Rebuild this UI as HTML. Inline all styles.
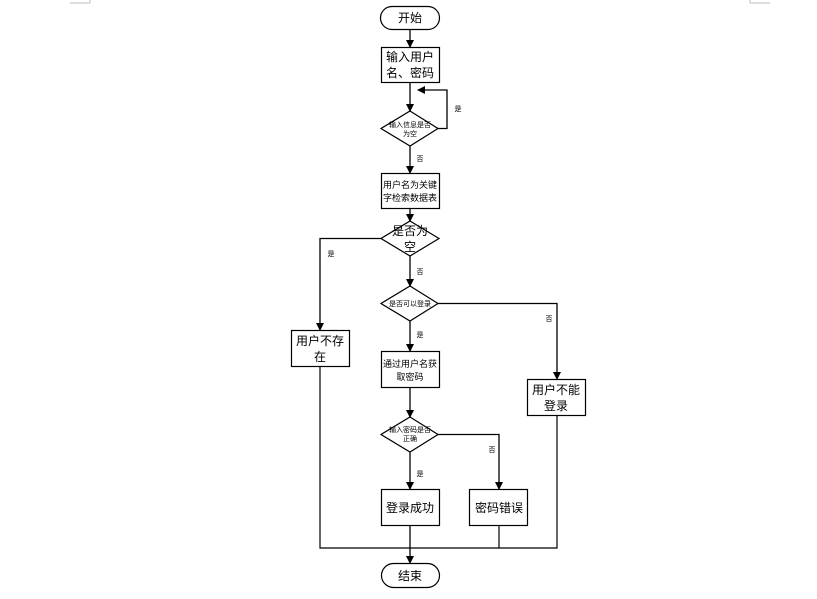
<!DOCTYPE html>
<html><head><meta charset="utf-8"><style>
html,body{margin:0;padding:0;background:#fff;}
svg text{font-family:"Liberation Sans","Noto Sans CJK SC",sans-serif;fill:#000;}
</style></head><body>
<svg width="817" height="594" viewBox="0 0 817 594" xmlns="http://www.w3.org/2000/svg">
<defs><marker id="a" markerWidth="8" markerHeight="8" refX="7" refY="4" orient="auto" markerUnits="userSpaceOnUse"><path d="M0,0 L8,4 L0,8 z" fill="#000"/></marker></defs>
<g stroke="#bbb" stroke-width="1"><path d="M70,3 H90 M90,0 V3 M750,3 H770 M750,0 V3"/></g>
<g fill="none" stroke="#000" stroke-width="1.2">
<rect x="380.5" y="6.5" width="59" height="23" rx="11.5"/>
<rect x="381.5" y="47.5" width="58" height="35"/>
<polygon points="410,111 438,128.5 410,146 381,128.5"/>
<rect x="381.5" y="173.5" width="58" height="35"/>
<polygon points="410,221 439,238.5 410,256 381,238.5"/>
<polygon points="410,286 438,303.5 410,321 381,303.5"/>
<rect x="291.5" y="330.5" width="58" height="36"/>
<rect x="381.5" y="351.5" width="58" height="36"/>
<rect x="527.5" y="379.5" width="58" height="36"/>
<polygon points="410,417 438,434.5 410,452 381,434.5"/>
<rect x="381.5" y="489.5" width="58" height="36"/>
<rect x="469.5" y="489.5" width="58" height="36"/>
<rect x="381.5" y="563.5" width="58" height="24" rx="12"/>
</g>
<g fill="none" stroke="#000" stroke-width="1.3" marker-end="url(#a)">
<path d="M410,30 V47"/>
<path d="M410,83 V111"/>
<path d="M438,128.5 H447 V90 H418"/>
<path d="M410,146 V173"/>
<path d="M410,209 V221"/>
<path d="M381,238.5 H320 V330"/>
<path d="M410,256 V286"/>
<path d="M438,303.5 H557 V379"/>
<path d="M410,321 V351"/>
<path d="M410,388 V417"/>
<path d="M410,452 V489"/>
<path d="M438,434.5 H499 V489"/>
<path d="M410,526 V563"/>
</g>
<g fill="none" stroke="#000" stroke-width="1.2">
<path d="M320,367 V548 H557 V416 M499,526 V548"/>
</g>
<g font-size="12" text-anchor="middle">
<text x="410" y="22">开始</text>
<text x="410" y="61">输入用户</text>
<text x="410" y="77">名、密码</text>
<text x="410" y="188" font-size="9">用户名为关键</text>
<text x="410" y="201" font-size="9">字检索数据表</text>
<text x="410" y="235">是否为</text>
<text x="410" y="251">空</text>
<text x="320" y="345">用户不存</text>
<text x="320" y="361">在</text>
<text x="410" y="367" font-size="9">通过用户名获</text>
<text x="410" y="380" font-size="9">取密码</text>
<text x="556" y="394">用户不能</text>
<text x="556" y="410">登录</text>
<text x="410" y="512">登录成功</text>
<text x="499" y="512">密码错误</text>
<text x="410" y="580">结束</text>
</g>
<g font-size="7" text-anchor="middle">
<text x="410" y="127">输入信息是否</text>
<text x="410" y="136">为空</text>
<text x="410" y="306">是否可以登录</text>
<text x="410" y="432">输入密码是否</text>
<text x="410" y="441">正确</text>
<text x="458" y="111">是</text>
<text x="420" y="161">否</text>
<text x="331" y="256">是</text>
<text x="420" y="274">否</text>
<text x="549" y="321">否</text>
<text x="420" y="337">是</text>
<text x="420" y="476">是</text>
<text x="492" y="452">否</text>
</g>
</svg>
</body></html>
